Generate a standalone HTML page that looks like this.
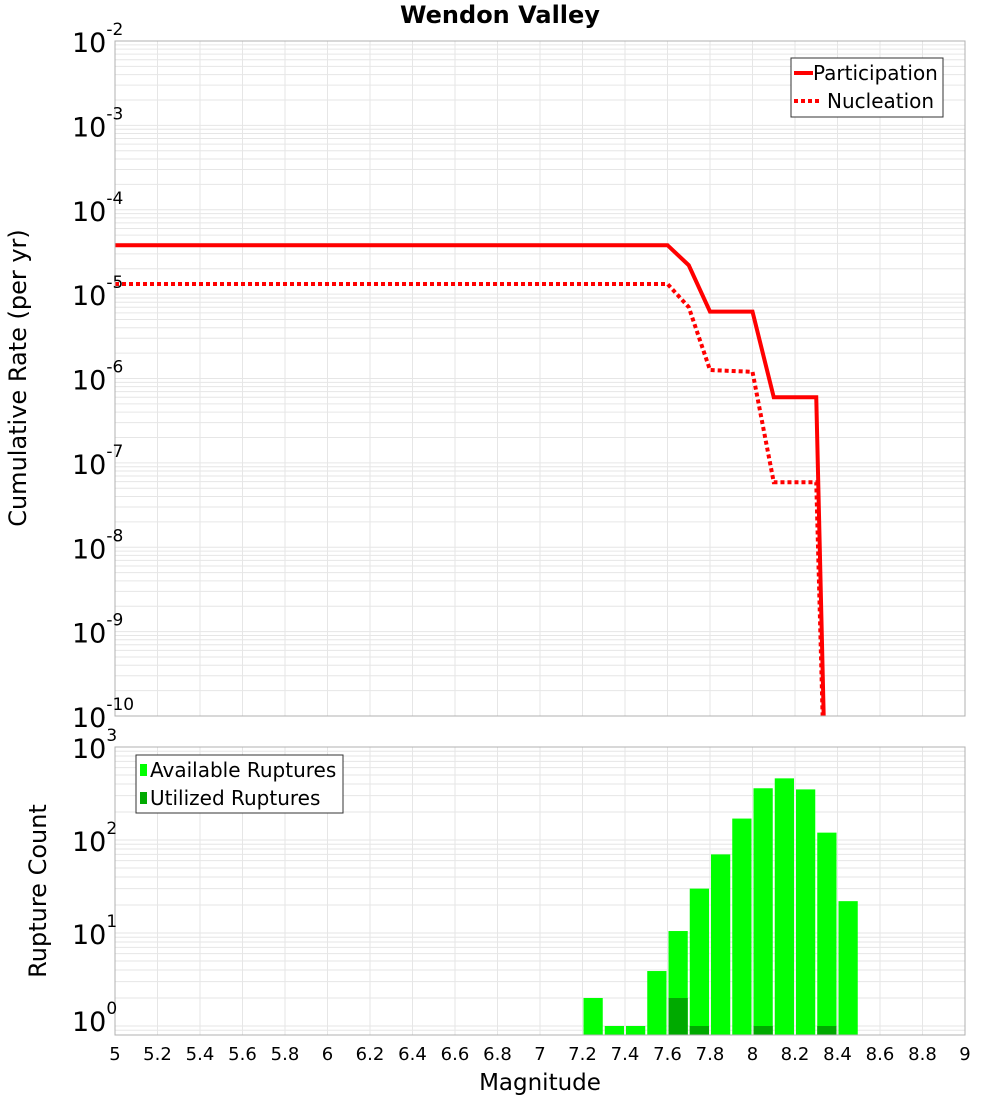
<!DOCTYPE html>
<html><head><meta charset="utf-8"><style>
body{margin:0;background:#fff;}
svg{display:block;font-family:"DejaVu Sans","Liberation Sans",sans-serif;}
</style></head><body>
<svg id="c" width="1000" height="1100" xmlns="http://www.w3.org/2000/svg">
<text x="500" y="23" text-anchor="middle" font-size="24" font-weight="bold">Wendon Valley</text>
<text transform="translate(26,378) rotate(-90)" text-anchor="middle" font-size="24">Cumulative Rate (per yr)</text>
<text transform="translate(46,891) rotate(-90)" text-anchor="middle" font-size="24">Rupture Count</text>
<text x="540" y="1090" text-anchor="middle" font-size="23">Magnitude</text>
</svg>
<script>
// Top chart data
const magPart = [5, 7.6, 7.7, 7.8, 8.0, 8.1, 8.3, 8.335];
const ratePart = [3.8e-5, 3.8e-5, 2.2e-5, 6.2e-6, 6.2e-6, 6.0e-7, 6.0e-7, 1e-10];
const magNucl = [5, 7.6, 7.7, 7.8, 8.0, 8.1, 8.3, 8.33];
const rateNucl = [1.32e-5, 1.32e-5, 7e-6, 1.26e-6, 1.2e-6, 5.9e-8, 5.9e-8, 1e-10];
const topDecades = [-10, -9, -8, -7, -6, -5, -4, -3, -2];
// Bottom chart data
const binMags = [7.2, 7.3, 7.4, 7.5, 7.6, 7.7, 7.8, 7.9, 8.0, 8.1, 8.2, 8.3, 8.4];
const availCounts = [2, 1, 1, 3.9, 10.5, 30, 70, 170, 360, 460, 350, 120, 22];
const usedCounts = [0, 0, 0, 0, 2, 1, 0, 0, 1, 0, 0, 1, 0];
const botDecades = [0, 1, 2, 3];
const xTicks = [5, 5.2, 5.4, 5.6, 5.8, 6, 6.2, 6.4, 6.6, 6.8, 7, 7.2, 7.4, 7.6, 7.8, 8, 8.2, 8.4, 8.6, 8.8, 9];

const NS = "http://www.w3.org/2000/svg";
const svg = document.getElementById('c');
const L = 115, R = 965;
const xS = m => L + (m - 5) / 4 * (R - L);
const T1 = 41, B1 = 716;
const yTop = v => T1 + (-2 - Math.log10(v)) / 8 * (B1 - T1);
const T2 = 747, B2 = 1035, P2 = 93;
const yBot = v => (T2 + 3 * P2) - Math.log10(v) * P2;
function mk(tag, attrs, parent) {
  const e = document.createElementNS(NS, tag);
  for (const k in attrs) e.setAttribute(k, attrs[k]);
  (parent || svg).appendChild(e);
  return e;
}
function grid(top, bot, yfn, decs, gname) {
  const g = mk('g', {});
  
  
  for (const t of xTicks) mk('line', {x1: xS(t), x2: xS(t), y1: top, y2: bot, stroke: '#e6e6e6', 'stroke-width': 1}, g);
  for (let d = decs[0] - 1; d < decs[decs.length - 1]; d++) {
    for (let k = 1; k <= 9; k++) {
      const y = yfn(k * Math.pow(10, d));
      if (y < top || y > bot) continue;
      mk('line', {x1: L, x2: R, y1: y, y2: y, stroke: '#e6e6e6', 'stroke-width': 1}, g);
    }
  }
}
grid(T1, B1, yTop, topDecades, 'top-grid');
grid(T2, B2, yBot, botDecades, 'bottom-grid');

function pts(xs, ys) { return xs.map((m, i) => xS(m) + ',' + yTop(ys[i])).join(' '); }
const cp = mk('clipPath', {id: 'clipTop'});
mk('rect', {x: L, y: T1, width: R - L, height: B1 - T1}, cp);
const lp = mk('polyline', {points: pts(magPart, ratePart), fill: 'none', stroke: '#ff0000', 'stroke-width': 4, 'clip-path': 'url(#clipTop)'});


const ln = mk('polyline', {points: pts(magNucl, rateNucl), fill: 'none', stroke: '#ff0000', 'stroke-width': 4, 'stroke-dasharray': '4,3', 'clip-path': 'url(#clipTop)'});



const bw = xS(0.1) - xS(0) - 2;
binMags.forEach((m, i) => {
  const y = yBot(availCounts[i]);
  const b = mk('rect', {x: xS(m) + 1, y: y, width: bw, height: B2 - y, fill: '#00ff00'});
  
  
  if (usedCounts[i] > 0) {
    const yu = yBot(usedCounts[i]);
    const u = mk('rect', {x: xS(m) + 1, y: yu, width: bw, height: B2 - yu, fill: '#00aa00'});
    
    
  }
});

const f1 = mk('rect', {x: L, y: T1, width: R - L, height: B1 - T1, fill: 'none', stroke: '#b0b0b0'});


const f2 = mk('rect', {x: L, y: T2, width: R - L, height: B2 - T2, fill: 'none', stroke: '#b0b0b0'});



function logLabel(y, d, name) {
  const t = mk('text', {x: 72, y: y + 11, 'font-size': 27});
  
  
  t.textContent = '10';
  const s = mk('tspan', {dy: -17, 'font-size': 17}, t);
  s.textContent = String(d);
}
topDecades.forEach(d => logLabel(yTop(Math.pow(10, d)), d, 'top-y-tick-label'));
botDecades.forEach(d => logLabel(yBot(Math.pow(10, d)) - (d === 0 ? 6 : 0), d, 'bottom-y-tick-label'));
xTicks.forEach(t => {
  const e = mk('text', {x: xS(t), y: 1060, 'text-anchor': 'middle', 'font-size': 18});
  
  
  e.textContent = String(t);
});

const lg1 = mk('g', {});


mk('rect', {x: 791, y: 58, width: 152, height: 59, fill: '#fff', stroke: '#333'}, lg1);
mk('line', {x1: 794, x2: 813, y1: 73, y2: 73, stroke: '#f00', 'stroke-width': 4}, lg1);
mk('line', {x1: 794, x2: 822, y1: 101, y2: 101, stroke: '#f00', 'stroke-width': 4, 'stroke-dasharray': '4,3'}, lg1);
let tx = mk('text', {x: 813, y: 80, 'font-size': 20}, lg1); tx.textContent = 'Participation';
tx = mk('text', {x: 827, y: 108, 'font-size': 20}, lg1); tx.textContent = 'Nucleation';

const lg2 = mk('g', {});


mk('rect', {x: 136, y: 755, width: 207, height: 58, fill: '#fff', stroke: '#333'}, lg2);
mk('rect', {x: 140, y: 764, width: 7, height: 12, fill: '#00ff00'}, lg2);
mk('rect', {x: 140, y: 792, width: 7, height: 12, fill: '#00aa00'}, lg2);
tx = mk('text', {x: 150, y: 777, 'font-size': 20}, lg2); tx.textContent = 'Available Ruptures';
tx = mk('text', {x: 150, y: 805, 'font-size': 20}, lg2); tx.textContent = 'Utilized Ruptures';
</script>
</body></html>
